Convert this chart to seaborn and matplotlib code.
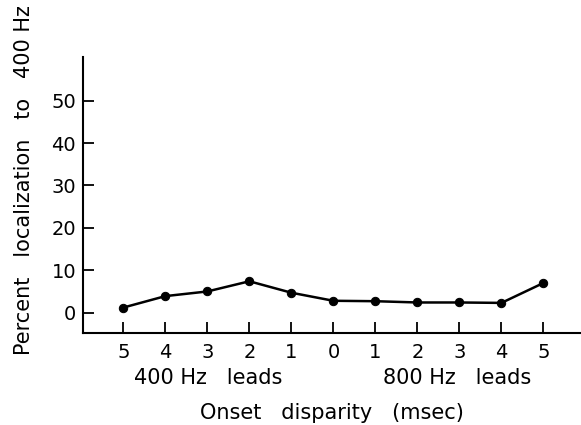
import matplotlib
matplotlib.use("Agg")
import matplotlib.pyplot as plt
import matplotlib.transforms as mtransforms
import seaborn as sns
import pandas as pd

# Data
positions = list(range(11))
tick_labels = ["5", "4", "3", "2", "1", "0", "1", "2", "3", "4", "5"]
percent_400 = [1.2, 3.9, 5.0, 7.4, 4.7, 2.8, 2.7, 2.4, 2.4, 2.3, 7.0]
y_ticks = [0, 10, 20, 30, 40, 50]
group_labels = ["400 Hz   leads", "800 Hz   leads"]

df = pd.DataFrame({"pos": positions, "pct": percent_400})

sns.set_style("ticks")
plt.rcParams["font.family"] = ["DejaVu Sans"]
plt.rcParams["text.color"] = "black"
plt.rcParams["axes.labelcolor"] = "black"
plt.rcParams["xtick.color"] = "black"
plt.rcParams["ytick.color"] = "black"

fig = plt.figure(figsize=(5.81, 4.25), dpi=100)
ax = fig.add_axes([83/581, 92/425, 497/581, 276/425])

sns.lineplot(data=df, x="pos", y="pct", ax=ax, color="black", linewidth=1.8,
             marker="o", markersize=6, markeredgecolor="black")

ax.set_xlim(-0.96, 10.87)
ax.set_ylim(-4.8, 60.3)
ax.set_xticks(positions)
ax.set_xticklabels(tick_labels, fontsize=14)
ax.set_yticks(y_ticks)
ax.set_yticklabels([str(v) for v in y_ticks], fontsize=14)
ax.tick_params(axis="both", direction="in", length=8, width=1.3,
               colors="black", labelcolor="black")
ax.tick_params(axis="x", pad=7)
ax.tick_params(axis="y", pad=5)

sns.despine(ax=ax)
for s in ["left", "bottom"]:
    ax.spines[s].set_linewidth(1.5)
    ax.spines[s].set_color("black")

ax.set_ylabel("Percent   localization   to   400 Hz", fontsize=15, color="black")
ax.yaxis.set_label_coords(-0.099, 0.554)
ax.set_xlabel("Onset   disparity   (msec)", fontsize=15, color="black")
ax.xaxis.set_label_coords(0.501, -0.254)

trans = mtransforms.blended_transform_factory(ax.transData, ax.transAxes)
ax.text(2.02, -0.163, group_labels[0], transform=trans, ha="center", va="center",
        fontsize=15, color="black")
ax.text(7.94, -0.163, group_labels[1], transform=trans, ha="center", va="center",
        fontsize=15, color="black")

ax.set_facecolor("white")
fig.patch.set_facecolor("white")
fig.savefig("out.png", dpi=100)
